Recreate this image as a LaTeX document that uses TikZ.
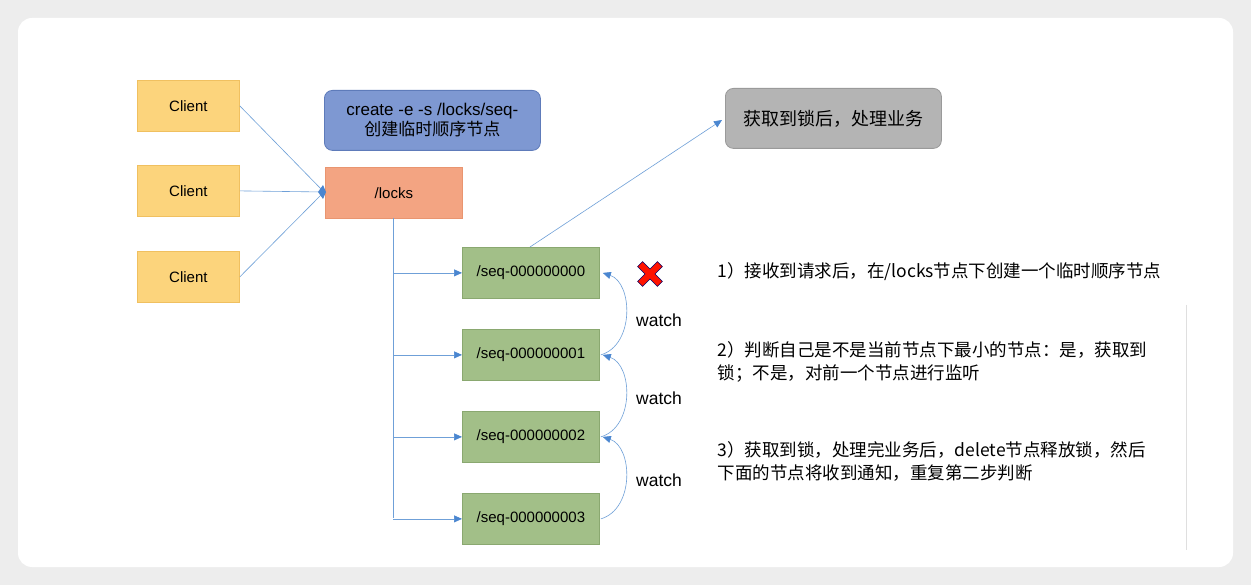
\documentclass[tikz,border=0pt]{standalone}
\usepackage{fontspec}
\setmainfont{Liberation Sans}
\newfontfamily\cjk{Noto Sans CJK SC}
\usetikzlibrary{arrows.meta}
\definecolor{bg}{HTML}{EDEDED}
\definecolor{cl}{HTML}{FCD47C}
\definecolor{clb}{HTML}{F0C060}
\definecolor{bl}{HTML}{7E98D2}
\definecolor{blb}{HTML}{5E7BBA}
\definecolor{lk}{HTML}{F3A482}
\definecolor{lkb}{HTML}{E99570}
\definecolor{gy}{HTML}{B4B4B4}
\definecolor{gyb}{HTML}{9A9A9A}
\definecolor{gr}{HTML}{A2BF88}
\definecolor{grb}{HTML}{8AA870}
\definecolor{ln}{HTML}{6FA0D8}
\definecolor{tip}{HTML}{4A86D0}
\begin{document}
\begin{tikzpicture}[x=1pt,y=-1pt,
  box/.style={draw=#1,line width=0.8pt,inner sep=0pt},
  t/.style={font=\fontsize{15}{17}\selectfont},
  c/.style={font=\cjk\fontsize{17.5}{23}\selectfont},
  conn/.style={draw=ln,line width=0.6pt,-{Triangle[length=8pt,width=7pt,fill=tip,color=tip]}}]
\useasboundingbox (0,0) rectangle (1251,585);
\fill[bg] (0,0) rectangle (1251,585);
\fill[white,rounded corners=14pt] (18,18) rectangle (1233,567);
\draw[gray!25] (1186,305) -- (1186,550);
% clients
\foreach \i/\y in {1/80,2/165,3/251}{
  \node[box=clb,fill=cl,minimum width=102pt,minimum height=51pt,anchor=north west,t] (c\i) at (137,\y) {Client};}
\node[box=blb,fill=bl,rounded corners=8pt,minimum width=216pt,minimum height=60pt,anchor=north west,font=\fontsize{17}{20}\selectfont,align=center] (cr) at (324,90) {create -e -s /locks/seq-\\{\cjk 创建临时顺序节点}};
\node[box=lkb,fill=lk,minimum width=137pt,minimum height=51pt,anchor=north west,t] (lk) at (325,167) {/locks};
\node[box=gyb,fill=gy,rounded corners=8pt,minimum width=216pt,minimum height=60pt,anchor=north west,font=\cjk\fontsize{18}{20}\selectfont] (gb) at (725,88) {获取到锁后，处理业务};
\foreach \i/\y in {0/247,1/329,2/411,3/493}{
  \node[box=grb,fill=gr,minimum width=137pt,minimum height=51pt,anchor=north west,t] (s\i) at (462,\y) {/seq-00000000\i};}
\coordinate (lin) at (324,192);
\foreach \i in {1,2,3}{\draw[draw=ln,line width=0.6pt] (c\i.east) -- (lin);}
\fill[tip] (318,192) -- (323,185) -- (326,192) -- (323,199) -- cycle;
\coordinate (tr) at (393,218);
\draw[ln,line width=0.6pt] (tr) -- (393,518);
\foreach \i in {0,1,2,3}{\draw[conn] (393,0 |- s\i.west) -- (s\i.west);}
\coordinate (gt) at (722,120);
\draw[conn] (530,247) -- (gt);
\foreach \a/\b in {1/0,2/1,3/2}{
  \draw[conn] ([xshift=1pt]s\a.east) .. controls +(34,-10) and +(30,10) .. ([xshift=3pt]s\b.east);}
\foreach \y in {320,398,480}{\node[font=\fontsize{17.5}{20}\selectfont] at (659,\y) {watch};}
% red X
\begin{scope}[shift={(650,274)},rotate=45]
\fill[red!85!orange,draw=blue!40!black,line width=0.6pt] (-3.5,-14)--(3.5,-14)--(3.5,-3.5)--(14,-3.5)--(14,3.5)--(3.5,3.5)--(3.5,14)--(-3.5,14)--(-3.5,3.5)--(-14,3.5)--(-14,-3.5)--(-3.5,-3.5)--cycle;
\end{scope}
\node[c,anchor=west] (n1) at (714,272) {1）接收到请求后，在/locks节点下创建一个临时顺序节点};
\node[c,anchor=north west,align=left] (n2) at (714,338) {2）判断自己是不是当前节点下最小的节点：是，获取到\\锁；不是，对前一个节点进行监听};
\node[c,anchor=north west,align=left] (n3) at (714,438) {3）获取到锁，处理完业务后，delete节点释放锁，然后\\下面的节点将收到通知，重复第二步判断};
\end{tikzpicture}
\end{document}
